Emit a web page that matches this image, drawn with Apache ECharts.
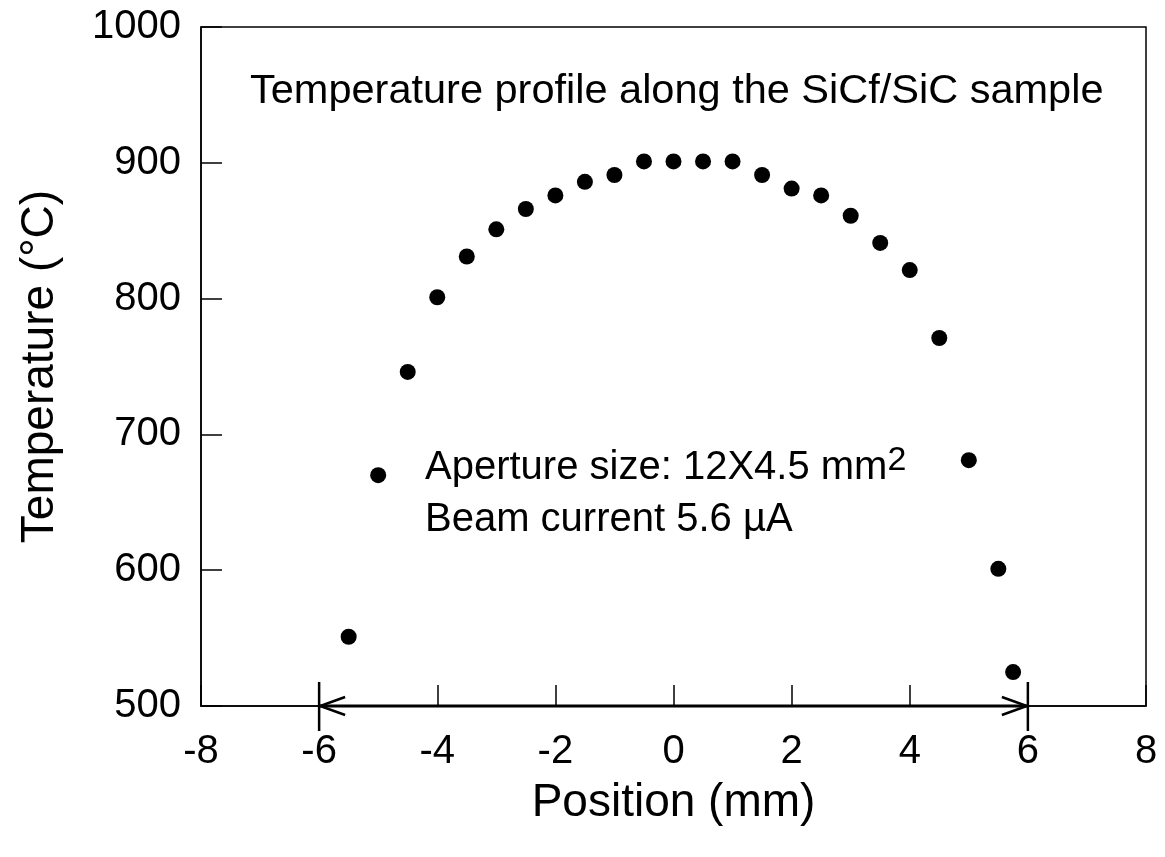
<!DOCTYPE html>
<html>
<head>
<meta charset="utf-8">
<script src="https://cdn.jsdelivr.net/npm/echarts@6/dist/echarts.min.js"></script>
<style>
  html, body { margin: 0; padding: 0; background: #fff; }
  #main { width: 1165px; height: 857px; }
</style>
</head>
<body>
<div id="main"></div>
<script>
// position along the sample (mm) and measured temperature (°C)
var positions = [-5.5, -5, -4.5, -4, -3.5, -3, -2.5, -2, -1.5, -1, -0.5, 0, 0.5, 1, 1.5, 2, 2.5, 3, 3.5, 4, 4.5, 5, 5.5, 5.75];
var temps = [551, 670, 746, 801, 831, 851, 866, 876, 886, 891, 901, 901, 901, 901, 891, 881, 876, 861, 841, 821, 771, 681, 601, 525];

// sample span marked by the double arrow (mm), drawn at the bottom axis
var sampleSpan = [-6, 6];
var spanLevel = 500;

var xTicks = [-8, -6, -4, -2, 0, 2, 4, 6, 8];
var yTicks = [500, 600, 700, 800, 900, 1000];

var fontFam = '"Liberation Sans", Arial, sans-serif';

var points = positions.map(function (x, i) { return [x, temps[i]]; });

var chart = echarts.init(document.getElementById('main'));

var option = {
  backgroundColor: '#fff',
  animation: false,
  grid: {
    left: 201, right: 19, top: 27, bottom: 151,
    show: true,
    borderColor: '#000',
    borderWidth: 1.5,
    containLabel: false,
    outerBoundsMode: 'none'
  },
  xAxis: {
    type: 'value',
    min: xTicks[0],
    max: xTicks[xTicks.length - 1],
    interval: 2,
    name: 'Position (mm)',
    nameLocation: 'middle',
    nameGap: 74,
    nameTextStyle: { color: '#000', fontSize: 46, fontFamily: fontFam },
    axisLine: { show: true, onZero: false, lineStyle: { color: '#000', width: 1.5 } },
    axisTick: { show: true, inside: true, length: 21, lineStyle: { color: '#000', width: 1.5 } },
    axisLabel: { color: '#000', fontSize: 40, fontFamily: fontFam, margin: 26 },
    splitLine: { show: false }
  },
  yAxis: {
    type: 'value',
    min: yTicks[0],
    max: yTicks[yTicks.length - 1],
    interval: 100,
    name: 'Temperature (°C)',
    nameLocation: 'middle',
    nameGap: 138,
    nameTextStyle: { color: '#000', fontSize: 46, fontFamily: fontFam },
    axisLine: { show: true, onZero: false, lineStyle: { color: '#000', width: 1.5 } },
    axisTick: { show: true, inside: true, length: 21, lineStyle: { color: '#000', width: 1.5 } },
    axisLabel: {
      color: '#000', fontSize: 40, fontFamily: fontFam, margin: 20,
      formatter: function (v) { return String(v); }
    },
    splitLine: { show: false }
  },
  series: [
    {
      type: 'scatter',
      data: points,
      symbol: 'circle',
      symbolSize: 16,
      itemStyle: { color: '#000', opacity: 1 },
      z: 3
    },
    {
      type: 'custom',
      clip: false,
      data: [[sampleSpan[0], sampleSpan[1], spanLevel]],
      encode: { x: [0, 1], y: 2 },
      renderItem: function (params, api) {
        var a = api.coord([api.value(0), api.value(2)]);
        var b = api.coord([api.value(1), api.value(2)]);
        var st = { stroke: '#000', lineWidth: 3, fill: null };
        var thin = { stroke: '#000', lineWidth: 2.5, fill: null };
        return {
          type: 'group',
          children: [
            { type: 'line', shape: { x1: a[0], y1: a[1], x2: b[0], y2: b[1] }, style: st },
            { type: 'polyline', shape: { points: [[a[0] + 26, a[1] - 9], [a[0] + 1, a[1]], [a[0] + 26, a[1] + 9]] }, style: thin },
            { type: 'polyline', shape: { points: [[b[0] - 26, b[1] - 9], [b[0] - 1, b[1]], [b[0] - 26, b[1] + 9]] }, style: thin },
            { type: 'line', shape: { x1: a[0], y1: a[1] - 24, x2: a[0], y2: a[1] + 25 }, style: thin },
            { type: 'line', shape: { x1: b[0], y1: b[1] - 24, x2: b[0], y2: b[1] + 25 }, style: thin }
          ]
        };
      },
      z: 4
    }
  ],
  graphic: [
    {
      type: 'text',
      left: 250, top: 71,
      style: {
        text: 'Temperature profile along the SiCf/SiC sample',
        fill: '#000', fontSize: 41.5, fontFamily: fontFam
      }
    },
    {
      type: 'text',
      left: 425, top: 444,
      style: {
        text: 'Aperture size: 12X4.5 mm{sup|2}',
        rich: { sup: { fontSize: 34, fontFamily: fontFam, verticalAlign: 'top', padding: [0, 0, 14, 0] } },
        fill: '#000', fontSize: 40, fontFamily: fontFam
      }
    },
    {
      type: 'text',
      left: 425, top: 500,
      style: {
        text: 'Beam current 5.6 µA',
        fill: '#000', fontSize: 40, fontFamily: fontFam
      }
    }
  ]
};

chart.setOption(option);
window.addEventListener('resize', function () {
  chart.resize();
});
</script>
</body>
</html>
